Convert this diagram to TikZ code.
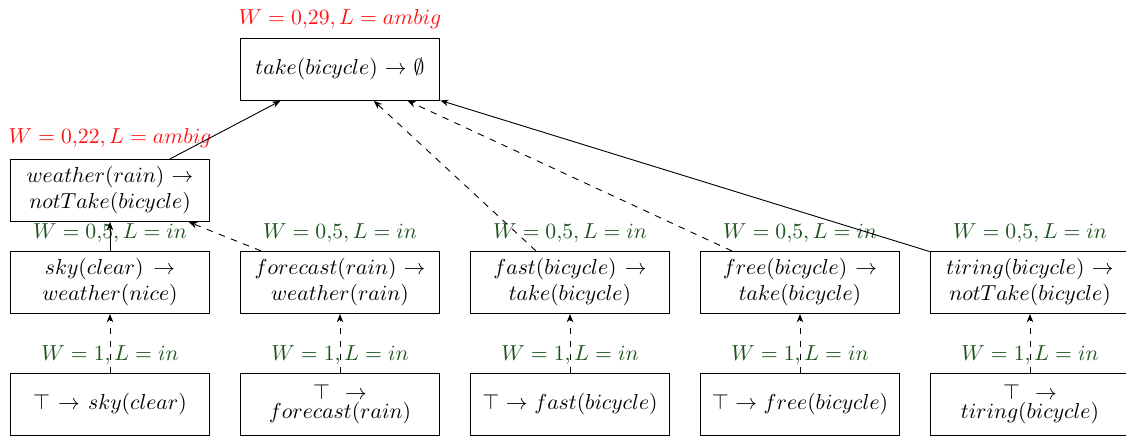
\documentclass[tikz,border=0pt]{standalone}
\usetikzlibrary{arrows.meta}
\definecolor{lblgreen}{RGB}{28,84,28}
\definecolor{lblred}{RGB}{255,20,20}
\begin{document}
\begin{tikzpicture}[x=0.461pt,y=-0.461pt,
  rulebox/.style={draw, line width=0.45pt, text width=3cm, align=center, minimum height=1cm, inner sep=0.333em},
  glab/.style={text=lblgreen, inner sep=0pt},
  rlab/.style={text=lblred, inner sep=0pt},
  arr/.style={-{Stealth[length=3.8pt,width=3pt]}, line width=0.42pt},
  darr/.style={arr, dashed}]
\useasboundingbox (0,0) rectangle (1126,437);
% top
\node[rulebox] (top) at (340,69.5) {$take(bicycle) \rightarrow \emptyset$};
\node[rlab] (ltop) at (340,19) {$W = 0{,}29, L = ambig$};
% weather
\node[rulebox] (weather) at (110,190.5) {$weather(rain) \rightarrow notTake(bicycle)$};
\node[rlab] (lweather) at (110,138) {$W = 0{,}22, L = ambig$};
% middle row
\node[rulebox] (sky) at (110,282.5) {$sky(clear) \rightarrow weather(nice)$};
\node[rulebox] (forecast) at (340,282.5) {$forecast(rain) \rightarrow weather(rain)$};
\node[rulebox] (fast) at (570,282.5) {$fast(bicycle) \rightarrow take(bicycle)$};
\node[rulebox] (free) at (800,282.5) {$free(bicycle) \rightarrow take(bicycle)$};
\node[rulebox] (tiring) at (1030,282.5) {$tiring(bicycle) \rightarrow notTake(bicycle)$};
\foreach \n/\x in {sky/110,forecast/340,fast/570,free/800,tiring/1030}{
  \node[glab] (l\n) at (\x,233) {$W = 0{,}5, L = in$};
}
% bottom row
\node[rulebox] (tsky) at (110,404.5) {$\top \rightarrow sky(clear)$};
\node[rulebox] (tforecast) at (340,404.5) {$\top \rightarrow$\\[-3.2pt]$forecast(rain)$};
\node[rulebox] (tfast) at (570,404.5) {$\top \rightarrow fast(bicycle)$};
\node[rulebox] (tfree) at (800,404.5) {$\top \rightarrow free(bicycle)$};
\node[rulebox] (ttiring) at (1030,404.5) {$\top \rightarrow$\\[-3.2pt]$tiring(bicycle)$};
\foreach \n/\x in {sky/110,forecast/340,fast/570,free/800,tiring/1030}{
  \node[glab] (lt\n) at (\x,355) {$W = 1, L = in$};
}
% edges
\draw[arr] (weather) -- (top);
\draw[arr] (sky) -- (weather);
\draw[darr] (forecast) -- (weather);
\draw[darr] (fast) -- (top);
\draw[darr] (free) -- (top);
\draw[arr] (tiring) -- (top);
\foreach \n in {sky,forecast,fast,free,tiring}{
  \draw[darr] (t\n) -- (\n);
}
\end{tikzpicture}
\end{document}
